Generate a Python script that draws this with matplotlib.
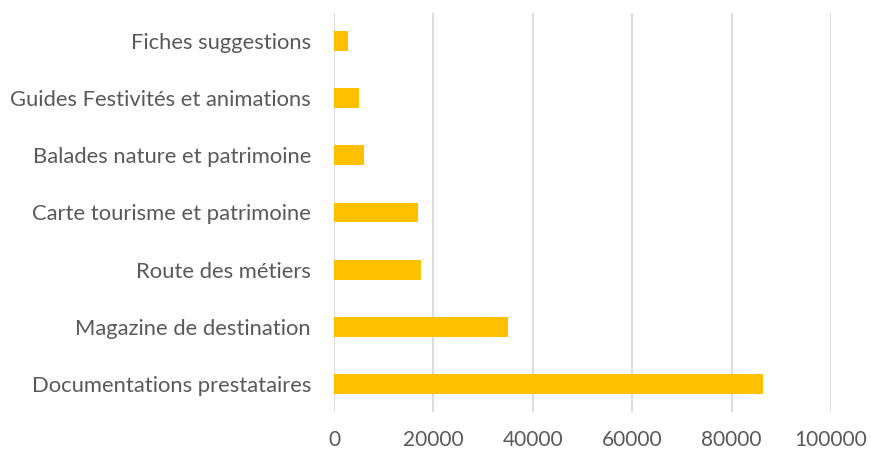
import numpy as np
import matplotlib.pyplot as plt

plt.rcParams["font.family"] = ["Lato", "DejaVu Sans"]

CATEGORIES = [
    "Documentations prestataires",
    "Magazine de destination",
    "Route des métiers",
    "Carte tourisme et patrimoine",
    "Balades nature et patrimoine",
    "Guides Festivités et animations",
    "Fiches suggestions",
]
VALUES = [86250, 34950, 17550, 16950, 5950, 5100, 2750]
X_TICKS = [0, 20000, 40000, 60000, 80000, 100000]

BAR_COLOR = "#FFC000"
TEXT_COLOR = "#595959"
GRID_COLOR = "#D9D9D9"


def main() -> None:
    fig = plt.figure(figsize=(8.71, 4.53), dpi=100)
    ax = fig.add_axes([334 / 871, 1 - 412.3 / 453, 497 / 871, 399.6 / 453])

    y = np.arange(len(CATEGORIES))
    ax.barh(y, VALUES, height=0.35, color=BAR_COLOR, zorder=3)

    ax.set_xlim(0, 100000)
    ax.set_ylim(-0.5, len(CATEGORIES) - 0.5)
    ax.set_xticks(X_TICKS)
    ax.set_xticklabels([str(t) for t in X_TICKS])
    ax.set_yticks(y)
    ax.set_yticklabels(CATEGORIES)

    ax.grid(axis="x", color=GRID_COLOR, lw=1.3, zorder=0)
    for side in ("top", "right", "bottom", "left"):
        ax.spines[side].set_visible(False)
    ax.axvline(0, color=GRID_COLOR, lw=1.3, zorder=1)

    ax.tick_params(axis="both", length=0, colors=TEXT_COLOR)
    ax.tick_params(axis="y", labelsize=15.8, pad=16.5)
    ax.tick_params(axis="x", labelsize=15, pad=13)

    fig.savefig("out.png", dpi=100)


if __name__ == "__main__":
    main()
